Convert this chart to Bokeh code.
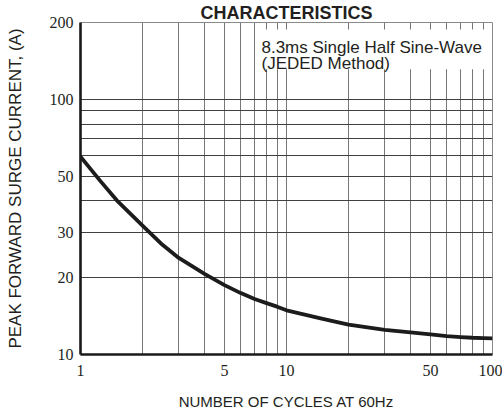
from bokeh.plotting import figure
from bokeh.models import Range1d, FixedTicker, NumeralTickFormatter, Label, BoxAnnotation
from bokeh.embed import file_html
from bokeh.resources import INLINE

# ---- data ----
cycles = [1, 1.25, 1.5, 2, 2.5, 3, 4, 5, 6, 7, 8, 9, 10, 15, 20, 30, 40, 50, 60, 70, 80, 90, 100]
surge_current = [59.6, 47.8, 40.2, 32.0, 26.9, 23.9, 20.7, 18.7, 17.4, 16.5, 15.9, 15.4, 14.9,
                 13.8, 13.1, 12.5, 12.2, 12.0, 11.8, 11.7, 11.63, 11.6, 11.57]

x_tick_labels = [1, 5, 10, 50, 100]
y_tick_labels = [10, 20, 30, 50, 100, 200]
x_grid_values = [2, 3, 4, 5, 6, 7, 8, 9, 10, 20, 30, 40, 50, 60, 70, 80, 90]
y_grid_values = [20, 30, 40, 50, 60, 70, 80, 90, 100]

title_text = "CHARACTERISTICS"
note_lines = ["8.3ms Single Half Sine-Wave", "(JEDED Method)"]
x_label = "NUMBER OF CYCLES AT 60Hz"
y_label = "PEAK FORWARD SURGE CURRENT, (A)"

TEXT = "#231f20"
NARROW = "Liberation Sans Narrow"
SANS = "Liberation Sans"

p = figure(width=502, height=412, x_axis_type="log", y_axis_type="log",
           x_range=Range1d(1, 100), y_range=Range1d(10, 200),
           output_backend="svg", toolbar_location=None,
           min_border_left=80, min_border_right=10, min_border_top=21, min_border_bottom=57,
           background_fill_color="white", border_fill_color="white")

# title
p.title.text = title_text
p.title.align = "center"
p.title.text_font = SANS
p.title.text_font_size = "18px"
p.title.text_font_style = "bold"
p.title.text_color = TEXT
p.title.standoff = 0
p.title.offset = 0

p.outline_line_color = "#8a8a8a"
p.outline_line_width = 1

# grids
p.xgrid.ticker = FixedTicker(ticks=x_grid_values)
p.ygrid.ticker = FixedTicker(ticks=y_grid_values)
p.xgrid.grid_line_color = "#767676"
p.ygrid.grid_line_color = "#404040"
p.xgrid.grid_line_width = 1
p.ygrid.grid_line_width = 1

# axes
p.xaxis.ticker = FixedTicker(ticks=x_tick_labels, minor_ticks=[])
p.yaxis.ticker = FixedTicker(ticks=y_tick_labels, minor_ticks=[])
for ax in (p.xaxis, p.yaxis):
    ax.formatter = NumeralTickFormatter(format="0")
    ax.major_tick_in = 0
    ax.major_tick_out = 0
    ax.minor_tick_in = 0
    ax.minor_tick_out = 0
    ax.axis_line_color = "#1a1a1a"
    ax.axis_line_width = 2.6
    ax.major_label_text_font = NARROW
    ax.major_label_text_font_size = "16px"
    ax.major_label_text_color = TEXT
    ax.axis_label_text_font = SANS
    ax.axis_label_text_font_style = "normal"
    ax.axis_label_text_color = TEXT

p.xaxis.axis_label = x_label
p.yaxis.axis_label = y_label
p.xaxis.axis_label_text_font_size = "15px"
p.yaxis.axis_label_text_font_size = "17px"
p.xaxis.major_label_standoff = 10
p.xaxis.axis_label_standoff = 14
p.yaxis.major_label_standoff = 7
p.yaxis.axis_label_standoff = 22

# curve
p.line(cycles, surge_current, line_color="#1c1c1c", line_width=3.8, line_join="round")

# note box
p.add_layout(BoxAnnotation(left=7.31, right=99.0, top=187.9, bottom=131.2,
                           fill_color="white", fill_alpha=1.0, line_color=None))
p.add_layout(Label(x=7.56, y=159.8, text=note_lines[0], text_font=SANS, text_font_size="17px",
                   text_color=TEXT, text_baseline="alphabetic", text_align="left"))
p.add_layout(Label(x=7.56, y=137.6, text=note_lines[1], text_font=SANS, text_font_size="17px",
                   text_color=TEXT, text_baseline="alphabetic", text_align="left"))

open("out.html", "w").write(file_html(p, INLINE))
